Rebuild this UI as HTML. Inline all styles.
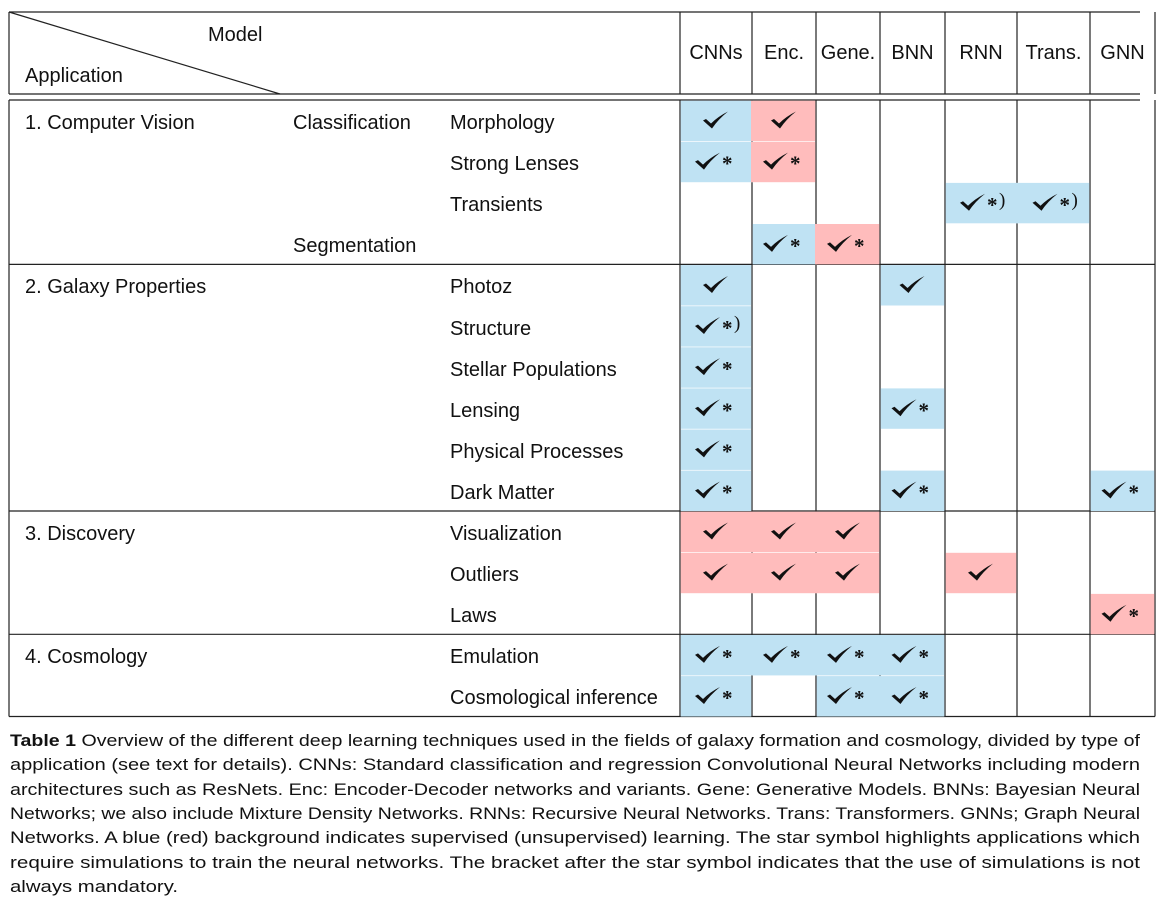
<!DOCTYPE html>
<html><head><meta charset="utf-8">
<style>
body{margin:0;background:#fff;width:1173px;height:901px;position:relative;overflow:hidden;font-family:"Liberation Sans",sans-serif;color:#111}
.t{position:absolute;font-size:20px;white-space:nowrap;line-height:1}
.cap{position:absolute;left:10px;font-size:17px;white-space:nowrap;transform-origin:0 0;line-height:1}
</style></head><body>
<svg id="tbl" width="1173" height="730" style="position:absolute;left:0;top:0"></svg>
<div id="txt"></div>
<div id="caption"></div>
<script>
const models=["CNNs","Enc.","Gene.","BNN","RNN","Trans.","GNN"];
const groups=["1. Computer Vision","2. Galaxy Properties","3. Discovery","4. Cosmology"];
const groupSizes=[4,6,3,2];
const subcats=[["Classification",0],["Segmentation",3]];
const items=["Morphology","Strong Lenses","Transients","","Photoz","Structure","Stellar Populations","Lensing","Physical Processes","Dark Matter","Visualization","Outliers","Laws","Emulation","Cosmological inference"];
const cells=[
["b","r","","","","",""],
["b*","r*","","","","",""],
["","","","","b*)","b*)",""],
["","b*","r*","","","",""],
["b","","","b","","",""],
["b*)","","","","","",""],
["b*","","","","","",""],
["b*","","","b*","","",""],
["b*","","","","","",""],
["b*","","","b*","","","b*"],
["r","r","r","","","",""],
["r","r","r","","r","",""],
["","","","","","","r*"],
["b*","b*","b*","b*","","",""],
["b*","","b*","b*","","",""]
];
const captionLines=[
["<b>Table 1</b> Overview of the different deep learning techniques used in the fields of galaxy formation and cosmology, divided by type of",1130],
["application (see text for details). CNNs: Standard classification and regression Convolutional Neural Networks including modern",1130],
["architectures such as ResNets. Enc: Encoder-Decoder networks and variants. Gene: Generative Models. BNNs: Bayesian Neural",1130],
["Networks; we also include Mixture Density Networks. RNNs: Recursive Neural Networks. Trans: Transformers. GNNs; Graph Neural",1130],
["Networks. A blue (red) background indicates supervised (unsupervised) learning. The star symbol highlights applications which",1130],
["require simulations to train the neural networks. The bracket after the star symbol indicates that the use of simulations is not",1130],
["always mandatory.",168]
];
const NS="http://www.w3.org/2000/svg";
const svg=document.getElementById('tbl');
const colX=[680,752,816,880,945,1017,1090,1155];
const L=9,T=12,HB=94,BT=100,RH=41.1;
function el(tag,attrs,parent){const e=document.createElementNS(NS,tag);for(const k in attrs)e.setAttribute(k,attrs[k]);(parent||svg).appendChild(e);return e;}
function txt(s,x,y,name){const d=document.createElement('div');d.className='t';d.style.left=x+'px';d.style.top=y+'px';d.textContent=s;


document.getElementById('txt').appendChild(d);return d;}
function rowY(i){return BT+i*RH;}
const nRows=items.length;
const g=el('g',{stroke:'#222','stroke-width':1.2,fill:'none'});
el('line',{x1:L,y1:T,x2:1140,y2:T},g);
el('line',{x1:L,y1:HB,x2:1140,y2:HB},g);
el('line',{x1:L,y1:BT,x2:1140,y2:BT},g);
el('line',{x1:L,y1:T,x2:280,y2:HB},g);
el('line',{x1:L,y1:T,x2:L,y2:HB},g);
el('line',{x1:L,y1:BT,x2:L,y2:rowY(nRows)},g);
colX.forEach(x=>{el('line',{x1:x,y1:T,x2:x,y2:HB},g);el('line',{x1:x,y1:BT,x2:x,y2:rowY(nRows)},g);});
let acc=0;groupSizes.forEach((n,gi)=>{acc+=n;el('line',{x1:L,y1:rowY(acc),x2:colX[7],y2:rowY(acc)},g);});
cells.forEach((row,ri)=>{row.forEach((c,ci)=>{if(!c)return;
const lx=colX[ci]+(ci>0&&row[ci-1]?-1:0.7);
const rx=colX[ci+1]+(ci<6&&row[ci+1]?1:-0.7);
const r=el('rect',{x:lx,y:rowY(ri)+0.7,width:rx-lx,height:RH-0.7,fill:c[0]==='b'?'#bfe2f3':'#ffbcbc'});


});});
cells.forEach((row,ri)=>{row.forEach((c,ci)=>{if(!c)return;
const mark=c.slice(1);const cx=(colX[ci]+colX[ci+1])/2-(mark?8:0);const cy=rowY(ri)+RH/2;
const p=el('path',{d:`M${cx-13} ${cy} L${cx-10} ${cy-1.5} L${cx-5} ${cy+3} Q${cx+2} ${cy-4} ${cx+12} ${cy-9} Q${cx+2} ${cy-1} ${cx-4} ${cy+8} Z`,fill:'#111'});


if(mark){const t=el('text',{x:cx+14,y:cy+9,'font-size':21,'font-family':'Liberation Serif, serif','font-weight':'bold',fill:'#111'});t.textContent='*';


if(mark==='*)'){const b=el('text',{x:cx+26,y:cy+3,'font-size':19,'font-family':'Liberation Serif, serif',fill:'#111'});b.textContent=')';

}}
});});
txt('Model',208,25,'model-header');
txt('Application',25,66,'application-header');
models.forEach((m,i)=>{const d=txt(m,0,43,'model-'+m.replace('.','').toLowerCase());d.style.left=((colX[i]+colX[i+1])/2)+'px';d.style.transform='translateX(-50%)';});
acc=0;groups.forEach((s,i)=>{txt(s,25,rowY(acc)+13,'group-label');acc+=groupSizes[i];});
subcats.forEach(([s,r])=>txt(s,293,rowY(r)+13,'subcategory-label'));
items.forEach((s,i)=>{if(s)txt(s,450,rowY(i)+13,'application-label');});
const cap=document.getElementById('caption');
captionLines.forEach(([h,w],i)=>{const d=document.createElement('div');d.className='cap';d.style.top=(732+i*24.3)+'px';d.innerHTML=h;


cap.appendChild(d);const aw=d.getBoundingClientRect().width;d.style.transform='scaleX('+(w/aw)+')';});
</script>
</body></html>
